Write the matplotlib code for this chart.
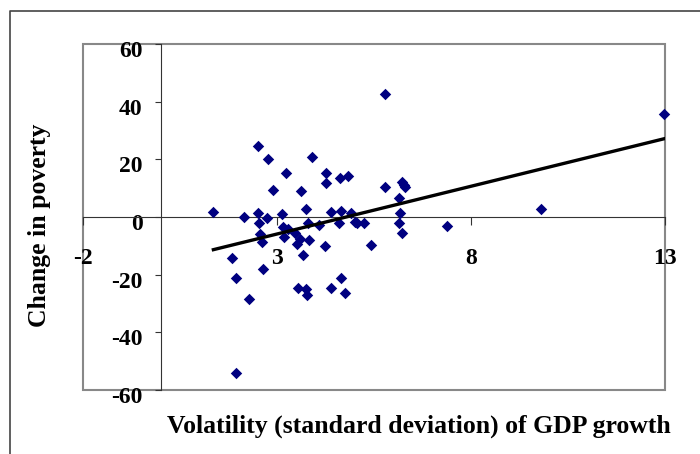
import numpy as np
import matplotlib
matplotlib.use("Agg")
import matplotlib.pyplot as plt
import matplotlib.transforms as mtransforms
from matplotlib.patches import Rectangle
from matplotlib.lines import Line2D

# volatility (x) and change in poverty (y)
volatility = [1.36, 1.83, 1.94, 1.94, 2.14, 2.29, 2.51, 2.51, 2.54, 2.57,
              2.62, 2.63, 2.75, 2.77, 2.89, 3.14, 3.15, 3.18, 3.23, 3.29,
              3.46, 3.52, 3.55, 3.60, 3.63, 3.67, 3.74, 3.75, 3.78, 3.80,
              3.83, 3.90, 4.08, 4.23, 4.26, 4.26, 4.38, 4.38, 4.61, 4.63,
              4.64, 4.64, 4.76, 4.84, 4.91, 5.01, 5.07, 5.25, 5.41, 5.79,
              5.79, 6.14, 6.14, 6.18, 6.22, 6.22, 6.28, 6.30, 7.37, 9.80,
              12.98]
poverty_change = [1.6, -14.1, -21.1, -54.0, -0.1, -28.3, 24.7, 1.3, -2.0, -5.9,
                  -8.7, -18.1, -0.5, 20.2, 9.5, 0.9, -3.5, -6.8, 15.2, -4.1,
                  -5.7, -9.4, -24.7, -7.8, 9.0, -13.2, 2.7, -25.1, -27.1, -2.0,
                  -8.0, 20.7, -2.8, -10.1, 15.2, 11.7, 1.6, -24.7, -2.0, 13.4,
                  2.1, -21.1, -26.3, 14.3, 1.3, -1.9, -2.0, -2.0, -9.7, 42.8,
                  10.5, 6.5, -2.0, 1.3, 12.3, -5.7, 11.1, 10.3, -3.1, 2.9,
                  35.8]

x_ticks = [-2, 3, 8, 13]
y_ticks = [-60, -40, -20, 0, 20, 40, 60]

plt.rcParams['font.family'] = ['Liberation Serif', 'DejaVu Serif']
plt.rcParams['font.weight'] = 'bold'
plt.rcParams['axes.unicode_minus'] = False

fig = plt.figure(figsize=(7, 4.54), dpi=100)
ax = fig.add_axes([83/700, 1 - 390/454, (665 - 83)/700, (390 - 44)/454])

ax.scatter(volatility, poverty_change, marker='D', s=34, color='#000080',
           zorder=3, linewidths=0, clip_on=False)

# linear trend
slope, intercept = np.polyfit(volatility, poverty_change, 1)
xs = np.array([min(volatility), max(volatility)])
ax.plot(xs, intercept + slope * xs, color='black', lw=2.4, zorder=4)

ax.set_xlim(-2, 13)
ax.set_ylim(-60, 60)

ax.spines['left'].set_position(('data', 0))
ax.spines['bottom'].set_position(('data', 0))
ax.spines['top'].set_visible(False)
ax.spines['right'].set_visible(False)
ax.spines['left'].set_color('#333333')
ax.spines['bottom'].set_color('#333333')
ax.add_patch(Rectangle((0, 0), 1, 1, transform=ax.transAxes, fill=False,
                       edgecolor='#888888', lw=1.5, clip_on=False, zorder=1))

ax.set_xticks(x_ticks)
ax.set_yticks(y_ticks)
ax.tick_params(axis='x', direction='out', length=6, pad=16, labelsize=17,
               color='#333333')
ax.tick_params(axis='y', direction='out', length=4, pad=9, labelsize=17,
               color='#333333')
shift = mtransforms.ScaledTranslation(0, -5/100, fig.dpi_scale_trans)
for lab in ax.get_yticklabels():
    lab.set_transform(lab.get_transform() + shift)
for lab in ax.get_xticklabels() + ax.get_yticklabels():
    lab.set_fontweight('bold')

fig.text(419/700, 1 - 426/454, 'Volatility (standard deviation) of GDP growth',
         ha='center', va='center', fontsize=18.5, fontweight='bold')
fig.text(40/700, 1 - 225/454, 'Change in poverty', rotation=90,
         ha='center', va='center', fontsize=18.5, fontweight='bold')

# outer frame of the figure
fig.add_artist(Line2D([10/700, 10/700, 1], [0, 1 - 11/454, 1 - 11/454],
                      transform=fig.transFigure, color='#444444', lw=1.2))

fig.savefig('out.png', dpi=100)
